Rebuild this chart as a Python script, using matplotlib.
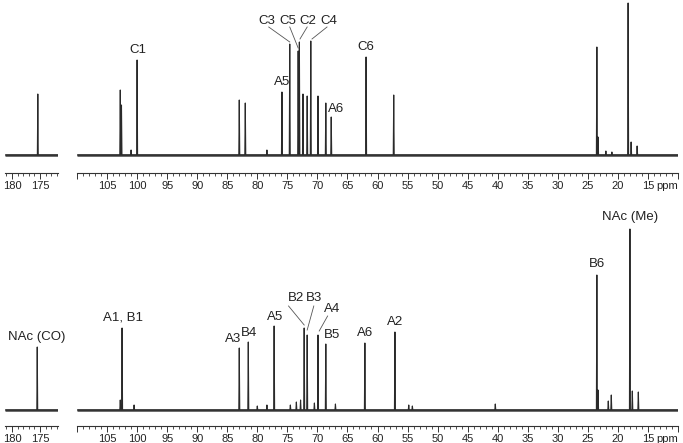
import matplotlib.pyplot as plt
from matplotlib.ticker import MultipleLocator, FixedLocator

plt.rcParams['font.family'] = ['Liberation Sans', 'DejaVu Sans']

# ---- top spectrum (peak positions in ppm, heights) ----
top_co_ppm = [175.4]
top_co_h = [61]
top_ppm = [102.8, 102.6, 101.0, 100.0, 83.0, 82.0, 78.4, 75.9, 74.6, 73.2, 73.0,
           72.4, 71.7, 71.1, 69.9, 68.6, 67.7, 61.9, 57.3, 23.5, 23.3, 22.0,
           21.0, 18.3, 17.8, 16.8]
top_h = [65, 50, 5, 95, 55, 52, 5, 63, 111, 104, 113,
         61, 59, 114, 59, 52, 38, 98, 60, 108, 18, 4,
         3, 152, 13, 9]

# ---- bottom spectrum ----
bot_co_ppm = [175.5]
bot_co_h = [63]
bot_ppm = [102.8, 102.5, 100.5, 83.0, 81.5, 80.0, 78.4, 77.2, 74.5, 73.5, 72.8,
           72.2, 71.7, 70.5, 69.9, 68.6, 67.0, 62.1, 57.1, 54.8, 54.2, 40.4,
           23.5, 23.3, 21.6, 21.1, 18.0, 17.6, 16.6]
bot_h = [10, 82, 5, 62, 68, 4, 5, 84, 5, 8, 10,
         82, 75, 7, 75, 66, 6, 67, 78, 5, 4, 6,
         135, 20, 9, 15, 181, 19, 18]

# labels: (text, x ppm, y)
top_labels = [('C1', 99.8, 105), ('A5', 75.9, 73), ('C3', 78.4, 134), ('C5', 74.9, 134),
              ('C2', 71.6, 134), ('C4', 68.1, 134), ('C6', 61.9, 108), ('A6', 66.9, 46)]
top_leaders = [((78.1, 128), (74.6, 113)), ((74.6, 128), (73.2, 107)),
               ((71.7, 128), (72.9, 116)), ((68.4, 128), (70.9, 116))]
bot_labels = [('A1, B1', 102.3, 93), ('A3', 84.0, 71), ('B4', 81.3, 77), ('A5', 77.0, 93),
              ('B2', 73.5, 112), ('B3', 70.6, 112), ('A4', 67.6, 101), ('B5', 67.6, 75),
              ('A6', 62.1, 77), ('A2', 57.1, 88), ('B6', 23.4, 146), ('NAc (Me)', 18.0, 193)]
bot_co_label = ('NAc (CO)', 175.6, 73)
bot_leaders = [((74.8, 104), (72.2, 85)), ((70.6, 104), (71.7, 80)), ((68.3, 94), (69.7, 79))]

W, H = 683, 443
fig = plt.figure(figsize=(W / 100, H / 100), dpi=100)


def px_axes(x0, y0, x1, y1):
    return fig.add_axes([x0 / W, 1 - y1 / H, (x1 - x0) / W, (y1 - y0) / H])


def spectrum(ax, ppm, h, lo, hi):
    pairs = sorted(zip(ppm, h), reverse=True)
    xs, ys = [hi], [0]
    w = 0.08
    for p, v in pairs:
        xs += [p + w, p, p - w]
        ys += [0, v, 0]
    xs.append(lo)
    ys.append(0)
    ax.plot([hi, lo], [0, 0], color='#404040', lw=1.8, solid_capstyle='butt')
    ax.plot(xs, ys, color='#2a2a2a', lw=0.8)


def style(ax, xl, yl, majors, labels):
    ax.set_xlim(xl)
    ax.set_ylim(yl)
    for s in ['top', 'left', 'right']:
        ax.spines[s].set_visible(False)
    ax.spines['bottom'].set_color('#333333')
    ax.spines['bottom'].set_linewidth(0.8)
    ax.set_yticks([])
    ax.xaxis.set_major_locator(FixedLocator(majors))
    ax.set_xticklabels(labels)
    ax.xaxis.set_minor_locator(MultipleLocator(1))
    ax.tick_params(axis='x', which='major', length=4, width=0.7, color='#333333',
                   labelsize=8, pad=2, labelcolor='#222222')
    ax.tick_params(axis='x', which='minor', length=2, width=0.6, color='#333333')
    ax.patch.set_visible(False)


main_majors = list(range(110, 9, -5))
main_labels = [''] + [str(v) for v in range(105, 14, -5)] + ['ppm']

# top panel
ax1a = px_axes(5, 0, 58, 173)
spectrum(ax1a, top_co_ppm, top_co_h, 171.8, 181.25)
style(ax1a, (181.25, 171.8), (-18, 155), [180, 175], ['180', '175'])

ax1 = px_axes(77, 0, 678, 173)
spectrum(ax1, top_ppm, top_h, 10, 110)
style(ax1, (110, 10), (-18, 155), main_majors, main_labels)
ax1.get_xticklabels()[-1].set_horizontalalignment('right')
for t, x, y in top_labels:
    ax1.text(x, y, t, fontsize=9.5, ha='center', va='center', color='#222222')
for (x0, y0), (x1, y1) in top_leaders:
    ax1.plot([x0, x1], [y0, y1], color='#555555', lw=0.6)

# bottom panel
ax2a = px_axes(5, 200, 58, 426)
spectrum(ax2a, bot_co_ppm, bot_co_h, 171.8, 181.25)
style(ax2a, (181.25, 171.8), (-16, 210), [180, 175], ['180', '175'])
ax2a.text(bot_co_label[1], bot_co_label[2], bot_co_label[0], fontsize=9.5,
          ha='center', va='center', color='#222222', clip_on=False)

ax2 = px_axes(77, 200, 678, 426)
spectrum(ax2, bot_ppm, bot_h, 10, 110)
style(ax2, (110, 10), (-16, 210), main_majors, main_labels)
ax2.get_xticklabels()[-1].set_horizontalalignment('right')
for t, x, y in bot_labels:
    ax2.text(x, y, t, fontsize=9.5, ha='center', va='center', color='#222222')
for (x0, y0), (x1, y1) in bot_leaders:
    ax2.plot([x0, x1], [y0, y1], color='#555555', lw=0.6)

fig.savefig('out.png', dpi=100)
